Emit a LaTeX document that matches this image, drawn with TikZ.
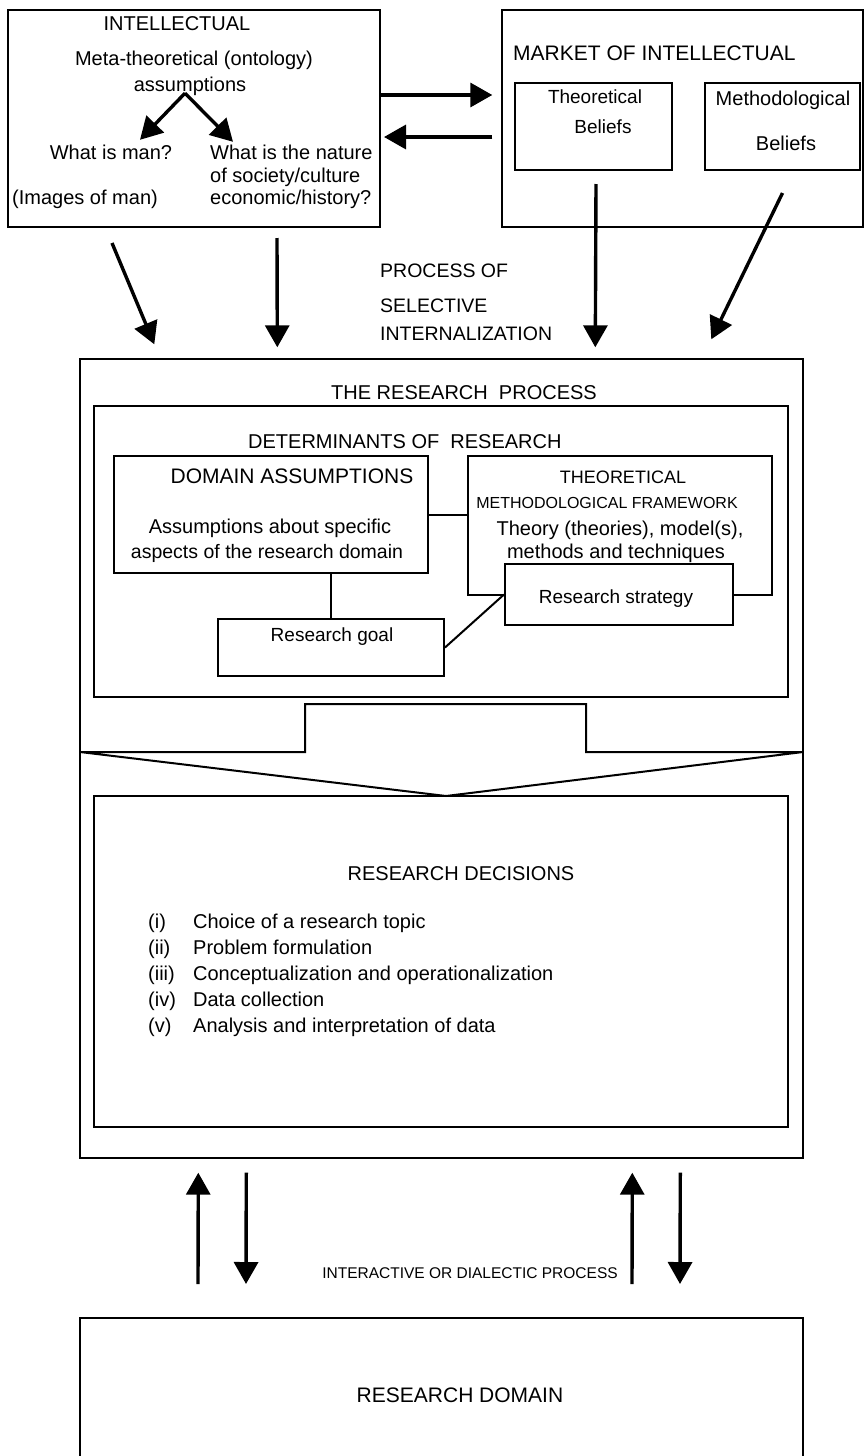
\documentclass[tikz,border=0pt]{standalone}
\usepackage{fontspec}
\setmainfont{Liberation Sans}
\usetikzlibrary{arrows.meta,positioning}

\begin{document}
\begin{tikzpicture}[x=1pt, y=-1pt]

    \tikzstyle{outerbox} = [
        rectangle,
        draw,
        line width=1.4pt,
        inner sep=0pt,
    ]
    \tikzstyle{block} = [
        rectangle,
        draw,
        line width=2pt,
        inner sep=0pt,
    ]
    \tikzstyle{txt} = [
        inner sep=0pt,
        text height=14pt,
        text depth=4pt,
        font=\fontsize{20}{24}\selectfont,
    ]
    \tikzstyle{line} = [
        draw,
        line width=3.4pt,
        -{Triangle[length=22pt,width=24pt]},
    ]
    \tikzstyle{link} = [
        draw,
        line width=2pt,
    ]

    \useasboundingbox (0,0) rectangle (865,1456);

    % intellectual
    \node [block, minimum width=372pt, minimum height=217pt] (intel) at (194,118.5) {};
    \node [txt] (intel-t) at (177,25) {INTELLECTUAL};
    \node [txt] (meta) at (194,60) {Meta-theoretical (ontology)};
    \node [txt] (assum) at (190,86) {assumptions};
    \node [txt] (man) at (111,154) {What is man?};
    \node [txt, anchor=west] (img) at (12,199) {(Images of man)};
    \node [txt, anchor=west] (nat1) at (210,154) {What is the nature};
    \node [txt, anchor=west] (nat2) at (210,177) {of society/culture};
    \node [txt, anchor=west] (nat3) at (210,199) {economic/history?};

    \path [line] ([xshift=-5pt, yshift=2pt]assum.south) -- ([xshift=29pt, yshift=5pt]man.north);
    \path [line] ([xshift=-5pt, yshift=2pt]assum.south) -- ([xshift=23pt, yshift=3pt]nat1.north west);

    % market
    \node [outerbox, minimum width=361pt, minimum height=217pt] (market) at (682.5,118.5) {};
    \node [txt, anchor=west, font=\fontsize{21}{25}\selectfont] (market-t) at (513,55) {MARKET OF INTELLECTUAL};
    \node [block, minimum width=157pt, minimum height=87pt] (tb) at (593.5,126.5) {};
    \node [txt, font=\fontsize{19}{23}\selectfont] (tb1) at (595,98) {Theoretical};
    \node [txt, font=\fontsize{19}{23}\selectfont] (tb2) at (603,128) {Beliefs};
    \node [block, minimum width=155pt, minimum height=87pt] (mb) at (782.5,126.5) {};
    \node [txt] (mb1) at (783,100) {Methodological};
    \node [txt] (mb2) at (786,145) {Beliefs};

    \path [line] ([yshift=23.5pt]intel.east) -- ([yshift=23.5pt, xshift=-9pt]market.west);
    \path [line] ([yshift=-18.5pt, xshift=-9pt]market.west) -- ([yshift=-18.5pt, xshift=3pt]intel.east);

    % research process
    \node [outerbox, minimum width=723pt, minimum height=799pt] (proc) at (441.5,758.5) {};

    \path [line] ([xshift=105pt, yshift=-15pt]intel.south west) -- ([xshift=75pt, yshift=14pt]proc.north west);
    \path [line] ([xshift=270pt, yshift=-10pt]intel.south west) -- ([xshift=198pt, yshift=11pt]proc.north west);
    \path [line] ([xshift=2.5pt, yshift=-13pt]tb.south) -- ([xshift=516pt, yshift=11pt]proc.north west);
    \path [line] ([yshift=-22pt]mb.south) -- ([xshift=632pt, yshift=19pt]proc.north west);

    \node [txt, anchor=west, font=\fontsize{19.5}{23}\selectfont] (sel1) at (380,272) {PROCESS OF};
    \node [txt, anchor=west, font=\fontsize{19.5}{23}\selectfont] (sel2) at (380,307) {SELECTIVE};
    \node [txt, anchor=west, font=\fontsize{19.5}{23}\selectfont] (sel3) at (380,335) {INTERNALIZATION};

    \node [txt] (proc-t) at (464,394) {THE RESEARCH\ \ PROCESS};

    % determinants
    \node [block, minimum width=694pt, minimum height=291pt] (det) at (441,551.5) {};
    \node [txt, anchor=west] (det-t) at (248,443) {DETERMINANTS OF\ \ RESEARCH};

    \node [block, minimum width=314pt, minimum height=117pt] (dom) at (271,514.5) {};
    \node [txt, font=\fontsize{21}{25}\selectfont] (dom-t) at (292,478) {DOMAIN ASSUMPTIONS};
    \node [txt] (dom1) at (270,528) {Assumptions about specific};
    \node [txt, font=\fontsize{19.5}{23}\selectfont] (dom2) at (267,553) {aspects of the research domain};

    \node [block, minimum width=304pt, minimum height=139pt] (theo) at (620,525.5) {};
    \node [txt, font=\fontsize{18}{22}\selectfont] (theo-t) at (623,478) {THEORETICAL};
    \node [txt, font=\fontsize{16}{20}\selectfont] (theo-m) at (607,503) {METHODOLOGICAL FRAMEWORK};
    \node [txt] (theo1) at (620,530) {Theory (theories), model(s),};
    \node [txt] (theo2) at (616,553) {methods and techniques};

    \node [block, fill=white, minimum width=228pt, minimum height=61pt] (strat) at (619,594.5) {};
    \node [txt, font=\fontsize{19}{23}\selectfont] (strat-t) at (616,598) {Research strategy};

    \node [block, minimum width=226pt, minimum height=57pt] (goal) at (331,647.5) {};
    \node [txt, font=\fontsize{19}{23}\selectfont] (goal-t) at (332,636) {Research goal};

    \path [link] (dom.east) -- (dom.east -| theo.west);
    \path [link] (goal.north) -- (goal.north |- dom.south);
    \path [link] (goal.east) -- (strat.west);

    % funnel
    \draw [line width=2pt] (80,752) -- (305,752) -- (305,704) -- (586,704) -- (586,752) -- (803,752) -- (446,796) -- cycle;

    % decisions
    \node [block, minimum width=694pt, minimum height=331pt] (dec) at (441,961.5) {};
    \node [txt] (dec-t) at (461,875) {RESEARCH DECISIONS};
    \node [txt, anchor=west] (d1) at (148,923) {\makebox[45pt][l]{(i)}Choice of a research topic};
    \node [txt, anchor=west] (d2) at (148,949) {\makebox[45pt][l]{(ii)}Problem formulation};
    \node [txt, anchor=west] (d3) at (148,975) {\makebox[45pt][l]{(iii)}Conceptualization and operationalization};
    \node [txt, anchor=west] (d4) at (148,1001) {\makebox[45pt][l]{(iv)}Data collection};
    \node [txt, anchor=west] (d5) at (148,1027) {\makebox[45pt][l]{(v)}Analysis and interpretation of data};

    % research domain
    \node [block, minimum width=723pt, minimum height=142pt] (rd) at (441.5,1389) {};
    \node [txt, font=\fontsize{21}{25}\selectfont] (rd-t) at (460,1397) {RESEARCH DOMAIN};

    \path [line] ([xshift=119pt, yshift=33pt]rd.north west) -- ([xshift=119pt, yshift=-14pt]proc.south west);
    \path [line] ([xshift=167pt, yshift=-14pt]proc.south west) -- ([xshift=167pt, yshift=33pt]rd.north west);
    \path [line] ([xshift=553pt, yshift=33pt]rd.north west) -- ([xshift=553pt, yshift=-14pt]proc.south west);
    \path [line] ([xshift=601pt, yshift=-14pt]proc.south west) -- ([xshift=601pt, yshift=33pt]rd.north west);
    \node [txt, font=\fontsize{15.5}{19}\selectfont] (inter) at (470,1273) {INTERACTIVE OR DIALECTIC PROCESS};

\end{tikzpicture}
\end{document}
